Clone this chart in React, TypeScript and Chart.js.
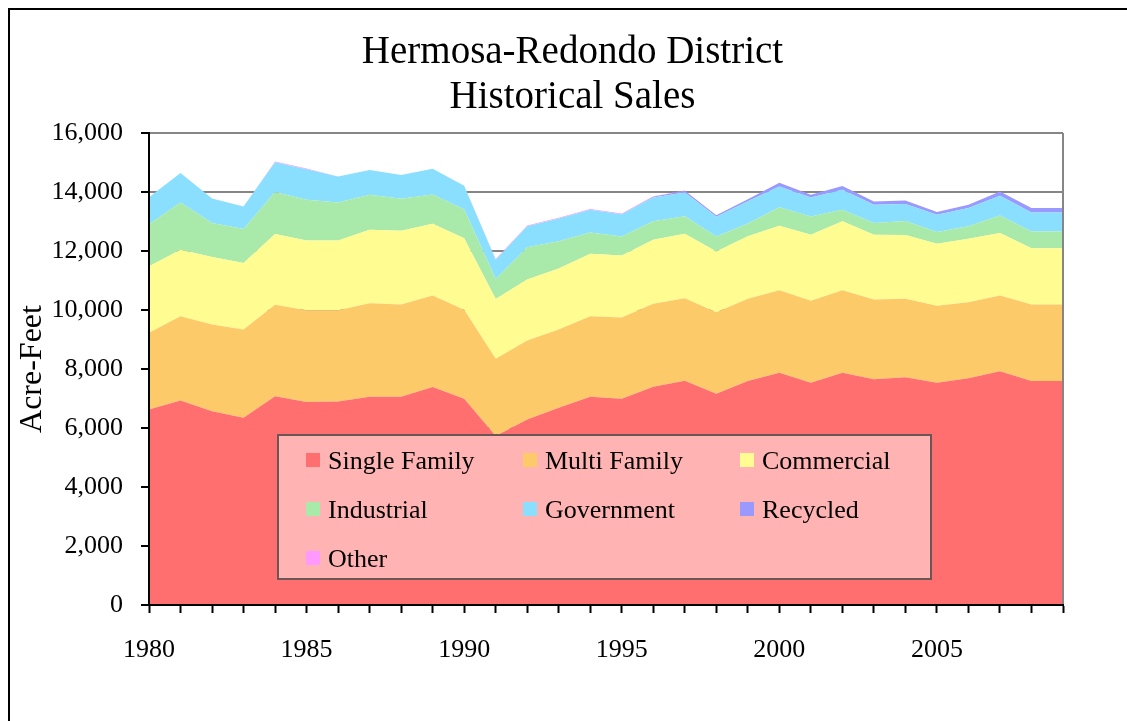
import React, { useEffect, useRef } from 'react';
import { Chart, registerables } from 'chart.js';

Chart.register(...registerables);

// ---- data ----
const years = [
  '1980', '1981', '1982', '1983', '1984', '1985', '1986', '1987', '1988', '1989',
  '1990', '1991', '1992', '1993', '1994', '1995', '1996', '1997', '1998', '1999',
  '2000', '2001', '2002', '2003', '2004', '2005', '2006', '2007', '2008', '2009',
];
const xTickLabels = ['1980', '1985', '1990', '1995', '2000', '2005'];
const titleLines = ['Hermosa-Redondo District', 'Historical Sales'];

const singleFamily = [6630, 6935, 6570, 6350, 7080, 6880, 6900, 7060, 7060, 7390, 6990, 5730, 6290, 6690, 7060, 6990, 7400, 7600, 7160, 7590, 7870, 7530, 7870, 7650, 7720, 7530, 7690, 7920, 7590, 7590];
const multiFamily = [2595, 2855, 2935, 2990, 3100, 3110, 3090, 3170, 3125, 3100, 3020, 2615, 2675, 2650, 2730, 2760, 2810, 2800, 2760, 2790, 2800, 2785, 2800, 2705, 2660, 2615, 2570, 2570, 2595, 2595];
const commercial = [2255, 2255, 2290, 2255, 2400, 2370, 2370, 2490, 2500, 2435, 2425, 2030, 2065, 2065, 2120, 2100, 2175, 2185, 2065, 2120, 2185, 2235, 2335, 2200, 2165, 2100, 2155, 2120, 1905, 1905];
const industrial = [1430, 1600, 1150, 1150, 1420, 1375, 1285, 1185, 1085, 990, 980, 675, 1095, 925, 720, 640, 620, 590, 505, 430, 630, 620, 395, 395, 475, 395, 420, 590, 575, 575];
const government = [915, 995, 835, 765, 1005, 1040, 880, 845, 810, 870, 800, 655, 710, 770, 765, 755, 810, 810, 675, 755, 700, 645, 675, 620, 575, 585, 620, 675, 640, 640];
const recycled = [0, 0, 0, 0, 0, 0, 0, 0, 0, 0, 0, 0, 0, 0, 0, 0, 20, 60, 50, 70, 130, 90, 130, 110, 120, 100, 110, 140, 150, 150];
const other = [0, 0, 0, 0, 30, 20, 0, 0, 0, 0, 0, 20, 30, 30, 30, 30, 20, 10, 0, 0, 0, 0, 0, 0, 0, 0, 0, 0, 0, 0];

const seriesNames = ['Single Family', 'Multi Family', 'Commercial', 'Industrial', 'Government', 'Recycled', 'Other'];
const seriesValues = [singleFamily, multiFamily, commercial, industrial, government, recycled, other];
const seriesColors = ['#FF6F6F', '#FDCA6A', '#FFFD91', '#A9E9A9', '#8ADFFF', '#9999FF', '#FF99FF'];

const FONT = '"Liberation Serif", "Times New Roman", serif';

const decorPlugin = {
  id: 'decor',
  afterDatasetsDraw(chart: any) {
    const ctx = chart.ctx;
    const area = chart.chartArea;
    ctx.save();
    // title
    ctx.fillStyle = '#000';
    ctx.font = '39px ' + FONT;
    ctx.textAlign = 'center';
    ctx.textBaseline = 'middle';
    titleLines.forEach((t, i) => ctx.fillText(t, 562.5, 43 + i * 45));

    // right frame of plot area
    ctx.strokeStyle = '#868686';
    ctx.lineWidth = 2;
    ctx.beginPath();
    ctx.moveTo(area.right, area.top);
    ctx.lineTo(area.right, area.bottom);
    ctx.stroke();

    // legend box
    const x0 = 268, y0 = 425, w = 653, h = 144;
    ctx.fillStyle = '#FFB3B3';
    ctx.fillRect(x0, y0, w, h);
    ctx.strokeStyle = '#6B5555';
    ctx.lineWidth = 2;
    ctx.strokeRect(x0, y0, w, h);
    const colX = [296, 513, 730];
    const rowY = [452, 501, 550];
    ctx.font = '26px ' + FONT;
    ctx.textBaseline = 'middle';
    ctx.textAlign = 'left';
    chart.data.datasets.forEach((ds: any, i: number) => {
      const c = i % 3;
      const r = Math.floor(i / 3);
      const x = colX[c];
      const y = rowY[r];
      ctx.fillStyle = ds.backgroundColor;
      ctx.fillRect(x, y - 9, 14, 14);
      ctx.fillStyle = '#000';
      ctx.fillText(ds.label, x + 22, y);
    });
    ctx.restore();
  },
};

export default function App() {
  const ref = useRef<HTMLCanvasElement | null>(null);

  useEffect(() => {
    if (!ref.current) return;
    const chart = new Chart(ref.current, {
      type: 'line',
      data: {
        labels: years,
        datasets: seriesNames.map((name, i) => ({
          label: name,
          data: seriesValues[i],
          backgroundColor: seriesColors[i],
          borderColor: seriesColors[i],
          borderWidth: 0,
          pointRadius: 0,
          fill: i === 0 ? 'origin' : '-1',
          tension: 0,
        })),
      },
      options: {
        animation: false,
        responsive: false,
        devicePixelRatio: 1,
        layout: { padding: { left: 0, right: 64, top: 123, bottom: 0 } },
        plugins: {
          legend: { display: false },
          tooltip: { enabled: false },
          title: { display: false },
        },
        scales: {
          x: {
            type: 'category',
            offset: false,
            grid: {
              display: true,
              drawOnChartArea: false,
              drawTicks: true,
              tickLength: 8,
              tickColor: '#000',
              tickWidth: 2,
            },
            border: { display: true, color: '#000', width: 2, z: 1 },
            ticks: {
              autoSkip: false,
              maxRotation: 0,
              color: '#000',
              padding: 22,
              font: { family: FONT, size: 26 },
              callback: function (this: any, value: any) {
                const lbl = this.getLabelForValue(value);
                return xTickLabels.includes(lbl) ? lbl : '';
              },
            },
            afterFit: (scale: any) => {
              scale.height = 116;
            },
          },
          y: {
            stacked: true,
            min: 0,
            max: 16000,
            grid: {
              color: '#868686',
              lineWidth: 2,
              drawTicks: true,
              tickLength: 8,
              tickColor: '#000',
              tickWidth: 2,
            },
            border: { display: true, color: '#000', width: 2, z: 1 },
            ticks: {
              stepSize: 2000,
              color: '#000',
              padding: 18,
              font: { family: FONT, size: 26 },
              callback: (v: any) => Number(v).toLocaleString('en-US'),
            },
            title: {
              display: true,
              text: 'Acre-Feet',
              color: '#000',
              font: { family: FONT, size: 32 },
              padding: { top: 3, bottom: 0 },
            },
            afterFit: (scale: any) => {
              scale.width = 139;
            },
          },
        },
      },
      plugins: [decorPlugin],
    });
    return () => chart.destroy();
  }, []);

  return (
    <div
      style={{
        position: 'fixed',
        left: 8,
        top: 8,
        width: 1130,
        height: 730,
        border: '2px solid #000',
        background: '#fff',
      }}
    >
      <canvas ref={ref} width={1117} height={711} style={{ display: 'block' }} />
    </div>
  );
}
